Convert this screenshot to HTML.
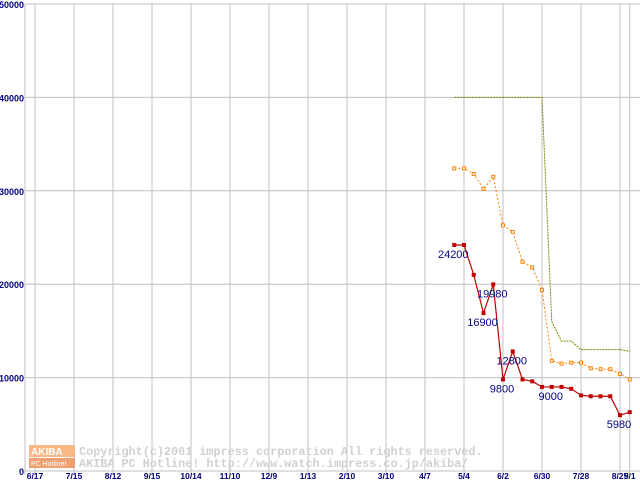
<!DOCTYPE html>
<html><head><meta charset="utf-8"><style>
body{margin:0;background:#fff;}
svg{display:block;font-family:"Liberation Sans",sans-serif;}
</style></head><body>
<svg width="640" height="480" id="chart">
<g id="grid"></g>
<g id="wm">
 <rect x="29" y="445" width="46" height="12" fill="#f8b888"/>
 <text x="31" y="455" font-size="10" font-weight="bold" fill="#fff">AKIBA</text>
 <rect x="29" y="458" width="46" height="10" fill="#f0a070"/>
 <text x="31" y="466" font-size="7" fill="#fff">PC Hotline!</text>
 <text x="79" y="455" font-family="Liberation Mono,monospace" font-size="11.8" font-weight="bold" fill="#d0d0d0">Copyright(c)2001 impress corporation All rights reserved.</text>
 <text x="79" y="467" font-family="Liberation Mono,monospace" font-size="11.8" font-weight="bold" fill="#d0d0d0">AKIBA PC Hotline!  http://www.watch.impress.co.jp/akiba/</text>
</g>
<g id="series"></g>
</svg>
<script>
const tickLabels=["6/17","7/15","8/12","9/15","10/14","11/10","12/9","1/13","2/10","3/10","4/7","5/4","6/2","6/30","7/28","8/25","9/1"];
const tickDays=[-308,-280,-252,-224,-196,-168,-140,-112,-84,-56,-28,0,28,56,84,112,119];
const yTicks=[0,10000,20000,30000,40000,50000];
const dataDays=[-7,0,7,14,21,28,35,42,49,56,63,70,77,84,91,98,105,112,119];
const redValues=[24200,24200,21000,16900,19980,9800,12800,9800,9600,9000,9000,9000,8800,8100,8000,8000,8000,5980,6300];
const orangeValues=[32400,32400,31800,30200,31500,26300,25600,22400,21800,19400,11800,11500,11600,11600,11000,10900,10900,10400,9800];
const oliveValues=[40000,40000,40000,40000,40000,40000,40000,40000,40000,40000,16000,13900,13900,13000,13000,13000,13000,13000,12800];
const labelIdx=[0,4,3,6,5,10,17];
const NS="http://www.w3.org/2000/svg";
const X=d=>464+d*39/28;
const Y=v=>471-v*467/50000;
function mk(p,t,a){const e=document.createElementNS(NS,t);for(const k in a)e.setAttribute(k,a[k]);p.appendChild(e);return e;}
const g=document.getElementById('grid');
yTicks.forEach(v=>{
 const l=mk(g,'line',{x1:25,x2:640,y1:Y(v),y2:Y(v),stroke:'#c0c0c0','stroke-width':1});
 
 
 const t=mk(g,'text',{x:24,y:Y(v)+4,'text-anchor':'end','font-size':9,'font-weight':'bold',fill:'#000080'});
 t.textContent=v;
 
 
});
tickDays.forEach((d,i)=>{
 const l=mk(g,'line',{x1:X(d),x2:X(d),y1:4,y2:475,stroke:'#c0c0c0','stroke-width':1});
 
 
 const t=mk(g,'text',{x:X(d),y:479,'text-anchor':'middle','font-size':8.5,'font-weight':'bold',fill:'#000080'});
 t.textContent=tickLabels[i];
 
 
});
const ax=mk(g,'line',{x1:25,x2:25,y1:4,y2:475,stroke:'#c0c0c0'});


const s=document.getElementById('series');
function pts(vals){return vals.map((v,i)=>X(dataDays[i])+','+Y(v)).join(' ');}
const ol=mk(s,'polyline',{points:pts(oliveValues),fill:'none',stroke:'#808000','stroke-width':1,'stroke-dasharray':'2,1'});


const orl=mk(s,'polyline',{points:pts(orangeValues),fill:'none',stroke:'#ff8000','stroke-width':1,'stroke-dasharray':'2,2'});


orangeValues.forEach((v,i)=>{
 const r=mk(s,'rect',{x:X(dataDays[i])-1.5,y:Y(v)-1.5,width:3,height:3,fill:'#fff',stroke:'#ff8000','stroke-width':1});
 
 
});
const rl=mk(s,'polyline',{points:pts(redValues),fill:'none',stroke:'#c00000','stroke-width':1.2});


redValues.forEach((v,i)=>{
 const r=mk(s,'rect',{x:X(dataDays[i])-2,y:Y(v)-2,width:4,height:4,fill:'#c00000'});
 
 
});
labelIdx.forEach(i=>{
 const v=redValues[i];
 const t=mk(s,'text',{x:X(dataDays[i])-1,y:Y(v)+13,'text-anchor':'middle','font-size':11,fill:'#000080'});
 t.textContent=v;
 
 
});
</script>
</body></html>
